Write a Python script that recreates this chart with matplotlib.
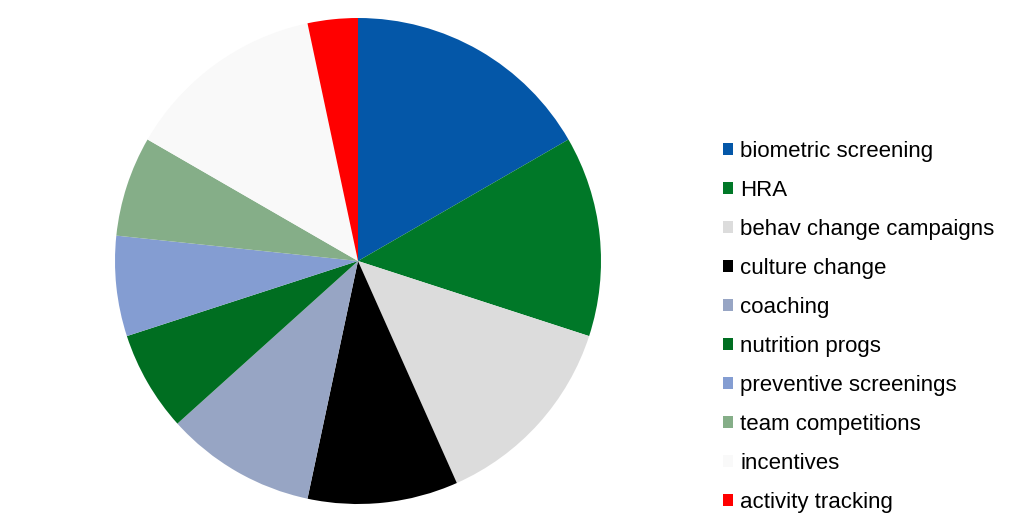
import matplotlib
matplotlib.use("Agg")
import matplotlib.pyplot as plt
from matplotlib.patches import Patch

# slice data, clockwise from 12 o'clock
labels = ["biometric screening", "HRA", "behav change campaigns", "culture change",
          "coaching", "nutrition progs", "preventive screenings", "team competitions",
          "incentives", "activity tracking"]
values = [5, 4, 4, 3, 3, 2, 2, 2, 4, 1]
colors = ["#0457A8", "#007828", "#DCDCDC", "#000000", "#97A5C4",
          "#006E21", "#849DD2", "#85AE88", "#F9F9F9", "#FF0000"]

plt.rcParams["font.family"] = ["Liberation Sans", "DejaVu Sans"]

fig = plt.figure(figsize=(10.23, 5.25), dpi=100)
ax = fig.add_axes([115 / 1023, 21 / 525, 486 / 1023, 486 / 525])
ax.pie(values, colors=colors, startangle=90, counterclock=False,
       radius=1.0, wedgeprops={"linewidth": 0})
ax.set_xlim(-1, 1)
ax.set_ylim(-1, 1)
ax.axis("off")

handles = [Patch(facecolor=c, edgecolor="none") for c in colors]
fig.legend(handles, labels, loc="upper left", bbox_to_anchor=(723 / 1023, 1 - 141 / 525),
           frameon=False, fontsize=16, handlelength=0.45, handleheight=0.45,
           handletextpad=0.32, labelspacing=0.81, borderaxespad=0, borderpad=0)

fig.savefig("out.png", dpi=100)
